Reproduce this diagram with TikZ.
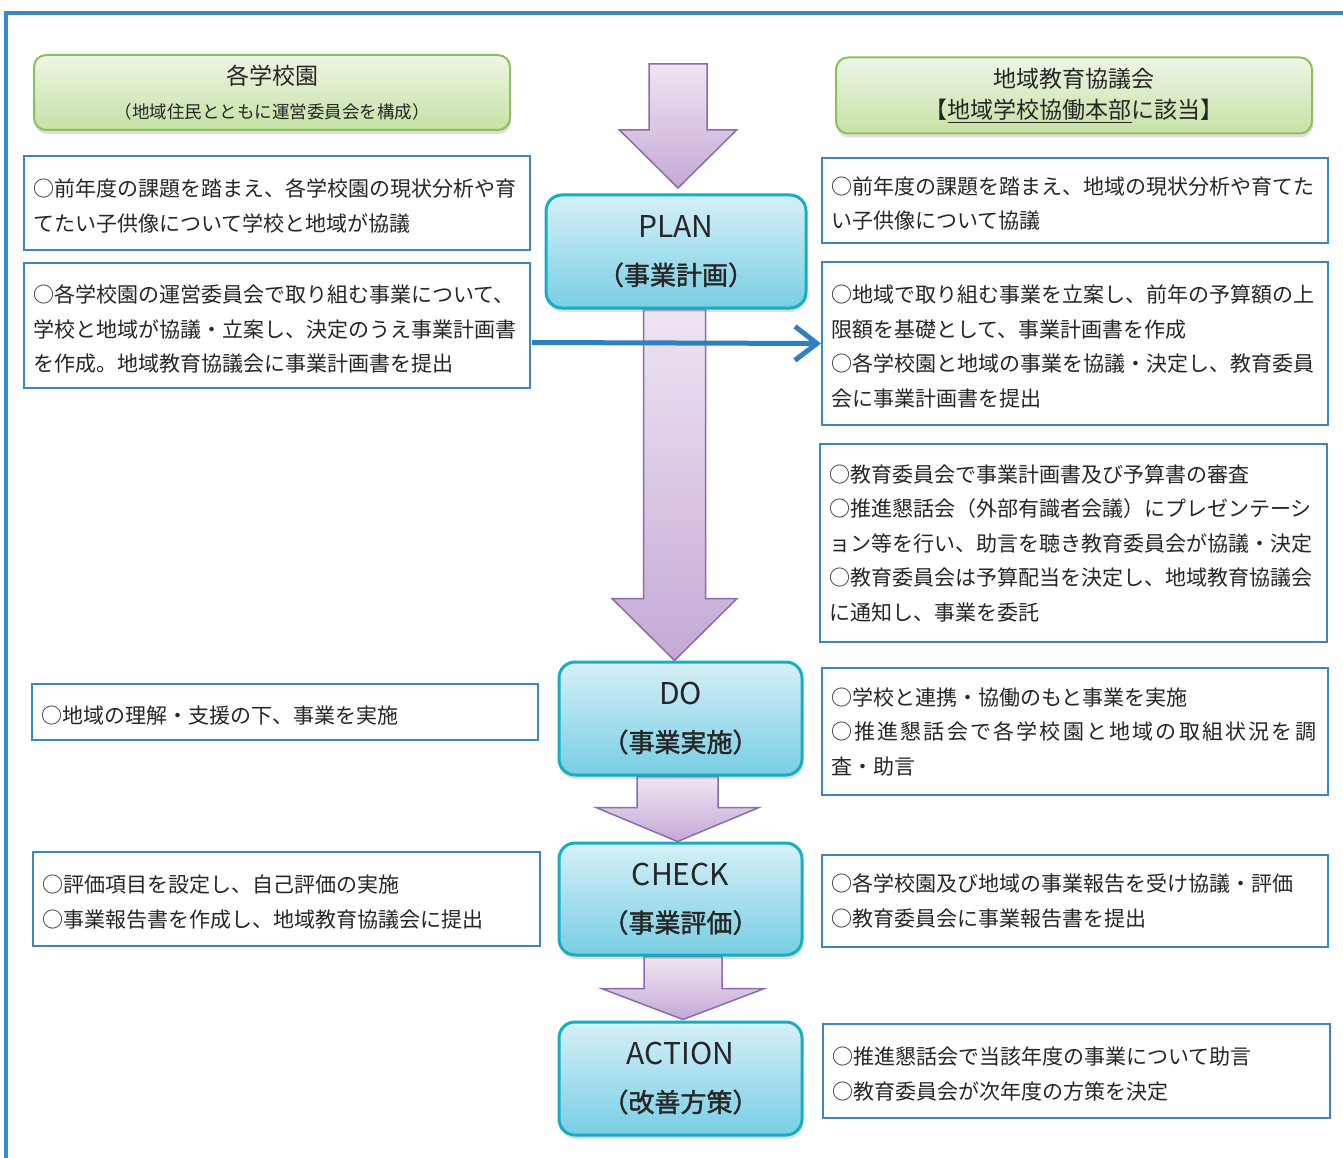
\documentclass[tikz,border=0pt]{standalone}
\usepackage{fontspec}
\setmainfont{Noto Sans CJK JP}
\usetikzlibrary{arrows.meta,shadows,calc}
\pgfdeclarelayer{bg}
\pgfsetlayers{bg,main}
\definecolor{frameblue}{HTML}{3A89C9}
\definecolor{boxblue}{HTML}{3D86C6}
\definecolor{arrblue}{HTML}{2F80C0}
\definecolor{gtop}{HTML}{EEF5E6}
\definecolor{gbot}{HTML}{C6E1A4}
\definecolor{gborder}{HTML}{8DC05A}
\definecolor{ctop}{HTML}{D6F0F7}
\definecolor{cbot}{HTML}{78CEE4}
\definecolor{cborder}{HTML}{17AEC4}
\definecolor{ptop}{HTML}{EEE5F2}
\definecolor{pbot}{HTML}{C5A9D5}
\definecolor{pborder}{HTML}{8C6AB1}
\definecolor{txt}{HTML}{262626}
\newcommand{\blockarrow}[5]{%
  \path[parrow] let \p1=(#1), \p2=(#2) in
    (\x2-#3,\y1) -- (\x2+#3,\y1) -- (\x2+#3,\y2+#5) -- (\x2+#4,\y2+#5)
    -- (\x2,\y2) -- (\x2-#4,\y2+#5) -- (\x2-#3,\y2+#5) -- cycle;}
\newcommand{\topstrut}{\rule{0pt}{23.5pt}}
\begin{document}
\begin{tikzpicture}[x=1pt,y=1pt,
  txtbox/.style={draw=boxblue, line width=2pt, fill=white, inner xsep=9pt,
    inner ysep=0pt, align=left, text=txt,
    font=\fontsize{21}{34.5}\selectfont},
  hdrbox/.style={draw=gborder, line width=2pt, rounded corners=12pt,
    top color=gtop, bottom color=gbot, align=center, text=txt,
    minimum width=476pt, inner sep=0pt,
    drop shadow={opacity=0.25, shadow xshift=1pt, shadow yshift=-4pt}},
  phase/.style={draw=cborder, line width=3pt, rounded corners=16pt,
    top color=ctop, bottom color=cbot, align=center, text=txt,
    inner sep=0pt, font=\fontsize{26}{47}\selectfont,
    drop shadow={opacity=0.25, shadow xshift=1pt, shadow yshift=-4pt}},
  parrow/.style={draw=pborder, line width=1.5pt, top color=ptop,
    bottom color=pbot, line join=miter},
  bluearr/.style={draw=arrblue, line width=5pt,
    -{Straight Barb[length=22pt,width=34pt]}},
  frame/.style={draw=frameblue, line width=4pt}
]
\useasboundingbox (0,0) rectangle (1343,-1158);
\draw[frame] (6,-1160) -- (6,-13) -- (1345,-13);

% headers
\node[hdrbox, minimum height=75pt, font=\fontsize{17.5}{34}\selectfont] (hdrL) at (272,-92.5)
  {{\fontsize{23}{34}\selectfont 各学校園}\\
   （地域住民とともに運営委員会を構成）};
\node[hdrbox, minimum height=76pt, font=\fontsize{23}{31}\selectfont] (hdrR) at (1074,-95.5)
  {地域教育協議会\\
   【\underline{地域学校協働本部}に該当】};

% phase boxes
\node[phase, minimum width=260pt, minimum height=113pt] (plan) at (676,-251.5)
  {{\fontsize{30}{47}\selectfont PLAN}\\{\addfontfeatures{FakeBold=1.5}（事業計画）}};
\node[phase, minimum width=243pt, minimum height=113pt] (do) at (680.5,-718.5)
  {{\fontsize{30}{47}\selectfont DO}\\{\addfontfeatures{FakeBold=1.5}（事業実施）}};
\node[phase, minimum width=243pt, minimum height=112pt] (check) at (680.5,-899)
  {{\fontsize{30}{47}\selectfont CHECK}\\{\addfontfeatures{FakeBold=1.5}（事業評価）}};
\node[phase, minimum width=243pt, minimum height=113pt] (action) at (680.5,-1078.5)
  {{\fontsize{30}{47}\selectfont ACTION}\\{\addfontfeatures{FakeBold=1.5}（改善方策）}};

% left boxes
\node[txtbox, minimum height=94pt, text width=488pt] (L1) at (277,-203)
  {\topstrut○前年度の課題を踏まえ、各学校園の現状分析や育\\てたい子供像について学校と地域が協議};
\node[txtbox, minimum height=125pt, text width=488pt] (L2) at (277,-325.5)
  {\rule{0pt}{25pt}○各学校園の運営委員会で取り組む事業について、\\学校と地域が協議・立案し、決定のうえ事業計画書\\を作成。地域教育協議会に事業計画書を提出};
\node[txtbox, minimum height=56pt, text width=488pt] (L3) at (285,-712)
  {\rule{0pt}{24.5pt}○地域の理解・支援の下、事業を実施};
\node[txtbox, minimum height=94pt, text width=489pt] (L4) at (286.5,-899)
  {\topstrut○評価項目を設定し、自己評価の実施\\○事業報告書を作成し、地域教育協議会に提出};

% right boxes
\node[txtbox, minimum height=85pt, text width=488pt] (R1) at (1075,-200.5)
  {\topstrut○前年度の課題を踏まえ、地域の現状分析や育てた\\い子供像について協議};
\node[txtbox, minimum height=163pt, text width=488pt] (R2) at (1075,-343.5)
  {\topstrut○地域で取り組む事業を立案し、前年の予算額の上\\限額を基礎として、事業計画書を作成\\○各学校園と地域の事業を協議・決定し、教育委員\\会に事業計画書を提出};
\node[txtbox, minimum height=198pt, text width=489pt] (R3) at (1073.5,-543)
  {○教育委員会で事業計画書及び予算書の審査\\○推進懇話会（外部有識者会議）にプレゼンテーシ\\ョン等を行い、助言を聴き教育委員会が協議・決定\\○教育委員会は予算配当を決定し、地域教育協議会\\に通知し、事業を委託};
\node[txtbox, minimum height=127pt, text width=488pt] (R4) at (1075,-731.5)
  {○学校と連携・協働のもと事業を実施\\{\addfontfeatures{LetterSpace=10.5}○推進懇話会で各学校園と地域の取組状況を調}\\査・助言};
\node[txtbox, minimum height=92pt, text width=488pt] (R5) at (1075,-901)
  {○各学校園及び地域の事業報告を受け協議・評価\\○教育委員会に事業報告書を提出};
\node[txtbox, minimum height=94pt, text width=489pt] (R6) at (1076.5,-1071)
  {\topstrut○推進懇話会で当該年度の事業について助言\\○教育委員会が次年度の方策を決定};

% block arrows
\coordinate (a0s) at (678,-64);
\coordinate (a0t) at (678,-188);
\coordinate (a1s) at ($(plan.south)+(-2,0)$);
\coordinate (a1t) at ($(do.north)+(-6,0)$);
\coordinate (a2s) at (do.south);
\coordinate (a2t) at ($(check.north)+(-3,0)$);
\coordinate (a3s) at (check.south);
\coordinate (a3t) at ($(action.north)+(2.5,1)$);
\begin{pgfonlayer}{bg}
\blockarrow{a0s}{a0t}{29}{58.5}{58}
\blockarrow{a1s}{a1t}{31}{62.5}{62}
\blockarrow{a2s}{a2t}{40.5}{81.5}{34}
\blockarrow{a3s}{a3t}{39}{81.5}{31}
\end{pgfonlayer}

% connector
\draw[bluearr] ($(L2.east)+(1,-17)$) -- (R2.west);
\end{tikzpicture}
\end{document}
